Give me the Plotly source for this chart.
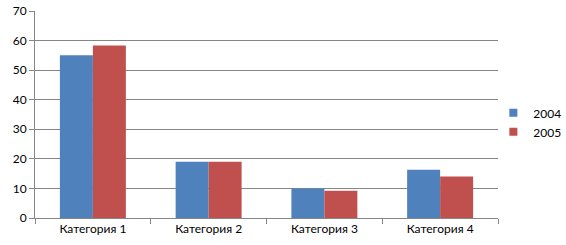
import plotly.graph_objects as go

categories = ["Категория 1", "Категория 2", "Категория 3", "Категория 4"]
series_2004 = [55, 19, 10, 16.3]
series_2005 = [58.3, 19, 9.2, 14]
series_names = ["2004", "2005"]
colors = ["#4F81BD", "#C0504D"]
y_ticks = [0, 10, 20, 30, 40, 50, 60, 70]

fig = go.Figure()
for name, vals, col in zip(series_names, [series_2004, series_2005], colors):
    fig.add_trace(go.Bar(x=categories, y=vals, name=name, marker_color=col,
                         marker_line_width=0, showlegend=False, legendgroup=name))
for name, col in zip(series_names, colors):
    fig.add_trace(go.Scatter(x=[None], y=[None], mode="markers", name=name, legendgroup=name,
                             marker=dict(symbol="square", size=8, color=col)))

font = dict(family="Lato, Open Sans, sans-serif", size=12, color="#000000")
fig.update_layout(
    width=566, height=245,
    margin=dict(l=35, r=68, t=11, b=27, autoexpand=False),
    paper_bgcolor="white", plot_bgcolor="white",
    barmode="group", bargap=0.43, bargroupgap=0,
    font=font,
    showlegend=True,
    legend=dict(x=0.99, y=0.462, xanchor="left", yanchor="middle", font=font,
                itemwidth=30, tracegroupgap=0, bgcolor="rgba(0,0,0,0)"),
    xaxis=dict(showline=True, linecolor="#868686", linewidth=1, ticks="outside",
               tickson="boundaries", ticklen=5, tickcolor="#868686", showgrid=False,
               tickfont=font),
    yaxis=dict(range=[0, 70], tickvals=y_ticks, showline=True, linecolor="#868686", linewidth=1,
               ticks="outside", ticklen=5, tickcolor="#868686", showgrid=True,
               gridcolor="#868686", gridwidth=1, zeroline=False, tickfont=font),
)
fig.write_html("out.html")
